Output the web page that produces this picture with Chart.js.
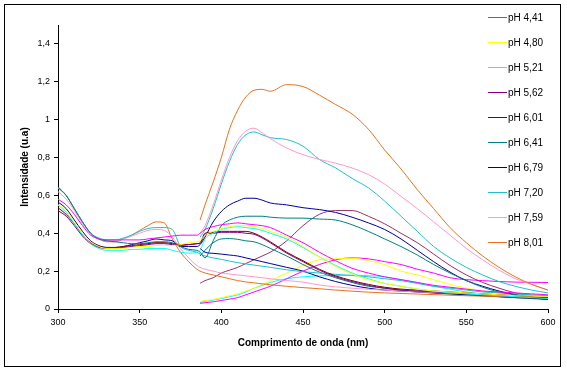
<!DOCTYPE html>
<html><head><meta charset="utf-8">
<script src="https://cdn.jsdelivr.net/npm/chart.js@4.4.0/dist/chart.umd.min.js"></script>
<style>html,body{margin:0;padding:0;background:#fff}#wrap{width:567px;height:372px;position:relative}</style>
</head><body><div id="wrap"><canvas id="c" width="567" height="372"></canvas></div>
<script>
// wavelengths (nm)
const wlA = [300,305,310,315,320,325,330,335,340,345,350,355,360,365,370,375,380,385];
const wlB = [387,390,395,400,405,410,415,420,425,430,440,450,460,470,480,490,500,510,520,530,540,550,560,570,580,590,600];
const xTicks = [300,350,400,450,500,550,600];
const yTicks = [0,0.2,0.4,0.6,0.8,1.0,1.2,1.4];

const seriesLabels = ['pH 4,41','pH 4,80','pH 5,21','pH 5,62','pH 6,01','pH 6,41','pH 6,79','pH 7,20','pH 7,59','pH 8,01'];

// legend series: part A (300-385) + part B (387-600)
const ph441A = [0.58,0.55,0.50,0.44,0.39,0.37,0.365,0.365,0.365,0.365,0.365,0.37,0.375,0.38,0.385,0.39,0.39,0.39];
const ph441B = [0.40,0.42,0.435,0.445,0.45,0.455,0.45,0.445,0.44,0.43,0.39,0.35,0.30,0.255,0.215,0.19,0.17,0.155,0.14,0.125,0.115,0.105,0.095,0.09,0.085,0.08,0.075];
const ph480A = [0.55,0.52,0.46,0.40,0.355,0.33,0.32,0.32,0.32,0.325,0.33,0.33,0.335,0.335,0.335,0.34,0.35,0.355];
const ph480B = [0.36,0.39,0.41,0.425,0.435,0.44,0.44,0.435,0.425,0.41,0.38,0.33,0.275,0.225,0.185,0.155,0.135,0.12,0.105,0.095,0.09,0.085,0.08,0.075,0.07,0.068,0.065];
const ph521A = [0.55,0.51,0.45,0.39,0.345,0.32,0.31,0.31,0.31,0.315,0.315,0.32,0.32,0.32,0.31,0.30,0.295,0.30];
const ph521B = [0.31,0.37,0.40,0.42,0.43,0.435,0.43,0.425,0.415,0.40,0.37,0.325,0.275,0.23,0.19,0.16,0.135,0.12,0.105,0.095,0.085,0.08,0.075,0.07,0.065,0.06,0.055];
const ph562A = [0.52,0.49,0.44,0.385,0.345,0.325,0.32,0.32,0.325,0.33,0.335,0.34,0.345,0.345,0.34,0.335,0.34,0.345];
const ph562B = [0.345,0.395,0.40,0.405,0.405,0.405,0.40,0.395,0.375,0.35,0.295,0.25,0.205,0.17,0.145,0.125,0.11,0.10,0.095,0.09,0.085,0.08,0.075,0.07,0.065,0.06,0.055];
const ph601A = [0.535,0.50,0.45,0.39,0.35,0.33,0.325,0.325,0.33,0.335,0.34,0.345,0.35,0.35,0.345,0.34,0.34,0.345];
const ph601B = [0.35,0.40,0.405,0.41,0.41,0.41,0.41,0.40,0.38,0.355,0.30,0.255,0.21,0.175,0.15,0.13,0.115,0.105,0.10,0.095,0.09,0.085,0.08,0.075,0.07,0.065,0.06];
const ph641A = [0.645,0.60,0.53,0.46,0.40,0.37,0.36,0.355,0.35,0.345,0.345,0.35,0.355,0.355,0.35,0.33,0.315,0.31];
const ph641B = [0.30,0.27,0.36,0.44,0.47,0.485,0.49,0.49,0.49,0.485,0.48,0.48,0.475,0.47,0.445,0.41,0.37,0.33,0.285,0.235,0.19,0.15,0.115,0.09,0.075,0.065,0.06];
const ph679A = [0.565,0.53,0.47,0.41,0.36,0.335,0.325,0.325,0.33,0.34,0.35,0.36,0.37,0.365,0.36,0.33,0.33,0.33];
const ph679B = [0.34,0.38,0.46,0.515,0.55,0.57,0.585,0.585,0.575,0.56,0.55,0.535,0.525,0.51,0.485,0.455,0.42,0.37,0.31,0.25,0.195,0.15,0.12,0.095,0.075,0.06,0.05];
const ph720A = [0.64,0.60,0.53,0.46,0.40,0.375,0.365,0.365,0.375,0.39,0.41,0.425,0.43,0.43,0.42,0.33,0.31,0.30];
const ph720B = [0.29,0.28,0.27,0.262,0.253,0.245,0.238,0.232,0.226,0.22,0.207,0.197,0.19,0.183,0.177,0.17,0.16,0.15,0.135,0.12,0.11,0.10,0.09,0.085,0.08,0.075,0.07];
const ph759A = [0.62,0.58,0.52,0.45,0.40,0.37,0.36,0.36,0.37,0.385,0.40,0.415,0.42,0.415,0.38,0.32,0.27,0.23];
const ph759B = [0.22,0.21,0.20,0.19,0.185,0.18,0.175,0.17,0.165,0.16,0.15,0.142,0.127,0.117,0.11,0.104,0.10,0.095,0.09,0.087,0.084,0.081,0.078,0.075,0.072,0.07,0.068];
const ph801A = [0.64,0.60,0.53,0.46,0.40,0.37,0.355,0.355,0.37,0.39,0.415,0.44,0.46,0.455,0.37,0.30,0.25,0.21];
const ph801B = [0.20,0.19,0.18,0.17,0.16,0.15,0.143,0.138,0.133,0.128,0.12,0.113,0.107,0.10,0.094,0.089,0.085,0.082,0.079,0.076,0.073,0.07,0.068,0.066,0.064,0.062,0.06];

// additional spectra (not in legend), over wlB
const ph801Em = [0.47,0.55,0.67,0.80,0.95,1.05,1.12,1.155,1.16,1.15,1.185,1.175,1.13,1.08,1.03,0.95,0.84,0.74,0.63,0.53,0.43,0.35,0.28,0.22,0.17,0.13,0.10];
const ph759Em = [0.40,0.44,0.55,0.68,0.80,0.89,0.94,0.955,0.93,0.90,0.85,0.815,0.79,0.77,0.745,0.71,0.66,0.595,0.53,0.46,0.39,0.32,0.26,0.205,0.16,0.13,0.10];
const ph720Em = [0.38,0.42,0.53,0.66,0.78,0.87,0.92,0.935,0.92,0.905,0.895,0.86,0.79,0.745,0.69,0.64,0.57,0.49,0.41,0.33,0.27,0.22,0.18,0.145,0.12,0.10,0.085];
const ph679Lo = [0.32,0.30,0.294,0.29,0.285,0.28,0.27,0.26,0.25,0.24,0.22,0.20,0.17,0.145,0.125,0.11,0.10,0.095,0.09,0.085,0.08,0.075,0.07,0.065,0.06,0.058,0.055];
const ph641Lo = [0.28,0.31,0.35,0.37,0.372,0.368,0.36,0.355,0.34,0.32,0.28,0.235,0.195,0.165,0.14,0.12,0.11,0.10,0.09,0.085,0.08,0.075,0.07,0.065,0.06,0.055,0.05];
const ph562Rise = [0.136,0.15,0.165,0.19,0.205,0.22,0.24,0.26,0.28,0.30,0.36,0.44,0.50,0.52,0.52,0.49,0.45,0.40,0.35,0.29,0.23,0.18,0.14,0.11,0.085,0.07,0.06];
const ph480Rise = [0.04,0.045,0.05,0.06,0.07,0.08,0.095,0.11,0.13,0.15,0.19,0.23,0.26,0.265,0.268,0.255,0.235,0.20,0.18,0.155,0.13,0.11,0.095,0.085,0.08,0.075,0.07];
const ph441Rise = [0.03,0.033,0.038,0.045,0.052,0.06,0.075,0.09,0.105,0.12,0.16,0.20,0.235,0.26,0.27,0.265,0.25,0.235,0.21,0.19,0.165,0.155,0.15,0.145,0.142,0.141,0.14];
const ph521Rise = [0.035,0.04,0.047,0.055,0.065,0.075,0.09,0.11,0.125,0.14,0.16,0.17,0.175,0.177,0.178,0.176,0.17,0.155,0.14,0.12,0.105,0.09,0.08,0.07,0.065,0.06,0.06];

const colors = ['#FF00FF','#FFFF00','#00FFFF','#800080','#800000','#008080','#000099','#20C0D0','#FF99CC','#E8731C'];
const mainA = [ph441A,ph480A,ph521A,ph562A,ph601A,ph641A,ph679A,ph720A,ph759A,ph801A];
const mainB = [ph441B,ph480B,ph521B,ph562B,ph601B,ph641B,ph679B,ph720B,ph759B,ph801B];
const extras = [
  {v: ph801Em, c: 9}, {v: ph759Em, c: 8}, {v: ph720Em, c: 7}, {v: ph679Lo, c: 6},
  {v: ph641Lo, c: 5}, {v: ph562Rise, c: -1}, {v: ph480Rise, c: 1}, {v: ph441Rise, c: 0}, {v: ph521Rise, c: 2}
];
const mauve = '#993366';

const wlAll = wlA.concat(wlB);
const datasets = [];
seriesLabels.forEach((lab, i) => {
  const vals = mainA[i].concat(mainB[i]);
  datasets.push({label: lab, data: wlAll.map((x, k) => ({x: x, y: vals[k]})),
    borderColor: colors[i], borderWidth: 1, pointRadius: 0, fill: false, cubicInterpolationMode: 'monotone', legendMain: true});
});
extras.forEach((e, j) => {
  datasets.push({label: 'extra' + j, data: wlB.map((x, k) => ({x: x, y: e.v[k]})),
    borderColor: e.c < 0 ? mauve : colors[e.c], borderWidth: 1, pointRadius: 0, fill: false, cubicInterpolationMode: 'monotone'});
});

const FONT = 'Liberation Sans, Arial, sans-serif';

const framePlugin = {
  id: 'frame',
  beforeDraw(chart) {
    const ctx = chart.ctx;
    ctx.save();
    ctx.fillStyle = '#fff';
    ctx.fillRect(0, 0, chart.width, chart.height);
    ctx.strokeStyle = '#000';
    ctx.lineWidth = 1;
    ctx.strokeRect(4.5, 4.5, 556, 362);
    ctx.restore();
  },
  afterDraw(chart) {
    const ctx = chart.ctx;
    ctx.save();
    ctx.font = '10px ' + FONT;
    ctx.textBaseline = 'middle';
    ctx.textAlign = 'left';
    for (let i = 0; i < seriesLabels.length; i++) {
      const y = 17 + 25 * i;
      ctx.strokeStyle = colors[i];
      ctx.lineWidth = 1;
      ctx.beginPath();
      ctx.moveTo(488, y + 0.5);
      ctx.lineTo(507, y + 0.5);
      ctx.stroke();
      ctx.fillStyle = '#000';
      ctx.fillText(seriesLabels[i], 508, y + 1);
    }
    ctx.restore();
  }
};

new Chart(document.getElementById('c'), {
  type: 'line',
  data: {datasets: datasets},
  options: {
    responsive: false,
    animation: false,
    devicePixelRatio: 1,
    layout: {padding: {left: 0, right: 19, top: 25, bottom: 0}},
    plugins: {legend: {display: false}, tooltip: {enabled: false}},
    scales: {
      x: {
        type: 'linear', min: 300, max: 600,
        afterBuildTicks: s => { s.ticks = xTicks.map(v => ({value: v})); },
        afterFit: s => { s.height = 63; },
        ticks: {font: {family: FONT, size: 9}, color: '#000', padding: 4, maxRotation: 0, autoSkip: false},
        grid: {drawOnChartArea: false, drawTicks: true, tickLength: 4, color: '#000'},
        border: {display: true, color: '#000', width: 1},
        title: {display: true, text: 'Comprimento de onda (nm)', color: '#000',
          font: {family: FONT, size: 10, weight: 'bold'}, padding: {top: 0, bottom: 23}}
      },
      y: {
        type: 'linear', min: 0, max: 1.5,
        afterBuildTicks: s => { s.ticks = yTicks.map(v => ({value: v})); },
        afterFit: s => { s.width = 58; },
        ticks: {font: {family: FONT, size: 9}, color: '#000', padding: 4,
          callback: v => String(Math.round(v * 10) / 10).replace('.', ',')},
        grid: {drawOnChartArea: false, drawTicks: true, tickLength: 4, color: '#000'},
        border: {display: true, color: '#000', width: 1},
        title: {display: true, text: 'Intensidade (u.a)', color: '#000',
          font: {family: FONT, size: 10, weight: 'bold'}, padding: {top: 19, bottom: 0}}
      }
    }
  },
  plugins: [framePlugin]
});
</script>
</body></html>
